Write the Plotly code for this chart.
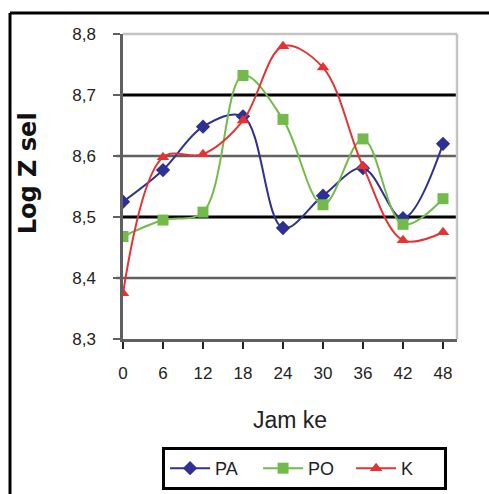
import plotly.graph_objects as go

hours = [0, 6, 12, 18, 24, 30, 36, 42, 48]
pa = [8.525, 8.577, 8.648, 8.665, 8.482, 8.535, 8.58, 8.498, 8.62]
po = [8.468, 8.495, 8.508, 8.732, 8.66, 8.52, 8.628, 8.488, 8.53]
k = [8.375, 8.598, 8.603, 8.658, 8.78, 8.745, 8.583, 8.462, 8.475]

series_names = ["PA", "PO", "K"]
y_ticks = [8.3, 8.4, 8.5, 8.6, 8.7, 8.8]
y_tick_text = ["8,3", "8,4", "8,5", "8,6", "8,7", "8,8"]
black_grid = [8.5, 8.7]
grey_grid = [8.4, 8.6]

FONT = "Arial"

fig = go.Figure()
styles = [
    dict(color="#2E3192", symbol="diamond", size=11),
    dict(color="#72BB4A", symbol="square", size=11),
    dict(color="#E53333", symbol="triangle-up", size=11),
]
for name, vals, st in zip(series_names, [pa, po, k], styles):
    fig.add_trace(go.Scatter(
        x=hours, y=vals, name=name, mode="lines+markers",
        line=dict(color=st["color"], width=2, shape="spline", smoothing=1.0),
        marker=dict(color=st["color"], symbol=st["symbol"], size=st["size"]),
    ))

shapes = []
for g in grey_grid:
    shapes.append(dict(type="line", xref="paper", yref="y", x0=-0.02, x1=1, y0=g, y1=g,
                       line=dict(color="#606060", width=2.5), layer="below"))
for g in black_grid:
    shapes.append(dict(type="line", xref="paper", yref="y", x0=0, x1=1, y0=g, y1=g,
                       line=dict(color="#000000", width=3), layer="below"))
shapes.append(dict(type="line", xref="paper", yref="paper", x0=0, x1=1, y0=1, y1=1,
                   line=dict(color="#C4C4C4", width=2.5), layer="below"))
shapes.append(dict(type="line", xref="paper", yref="paper", x0=1, x1=1, y0=0, y1=1,
                   line=dict(color="#C4C4C4", width=2.5), layer="below"))
shapes.append(dict(type="line", xref="paper", yref="paper", x0=-0.3383, x1=1.2, y0=1.0689, y1=1.0689,
                   line=dict(color="#000000", width=3)))
shapes.append(dict(type="line", xref="paper", yref="paper", x0=-0.3383, x1=-0.3383, y0=1.0689, y1=-0.6,
                   line=dict(color="#000000", width=3)))

fig.update_layout(
    width=489, height=494,
    margin=dict(l=123, r=32, t=34, b=155, autoexpand=False),
    paper_bgcolor="white", plot_bgcolor="white",
    font=dict(family=FONT, size=17, color="#222222"),
    showlegend=True,
    legend=dict(orientation="h", x=0.117, xanchor="left", y=-0.354, yanchor="top",
                bordercolor="#000000", borderwidth=3, bgcolor="white",
                font=dict(family=FONT, size=18, color="#222222"),
                itemwidth=40, entrywidth=38, entrywidthmode="pixels",
                tracegroupgap=0),
    shapes=shapes,
    xaxis=dict(range=[0, 50.1], tickvals=hours, ticktext=[str(h) for h in hours],
               showgrid=False, zeroline=False, showline=True, linecolor="#606060", linewidth=2.5,
               ticks="outside", ticklen=7, tickwidth=2, tickcolor="#202020",
               ticklabelstandoff=10, tickfont=dict(family=FONT, size=17)),
    yaxis=dict(range=[8.3, 8.8], tickvals=y_ticks, ticktext=y_tick_text,
               showgrid=False, zeroline=False, showline=True, linecolor="#606060", linewidth=2.5,
               ticks="outside", ticklen=7, tickwidth=2, tickcolor="#606060",
               ticklabelstandoff=14, tickfont=dict(family=FONT, size=17)),
    annotations=[
        dict(text="<b>Log Z sel</b>", xref="paper", yref="paper", x=-0.286, y=0.545,
             textangle=-90, showarrow=False,
             font=dict(family="DejaVu Sans", size=24, color="#111111"),
             xanchor="center", yanchor="middle"),
        dict(text="Jam ke", xref="paper", yref="paper", x=0.5, y=-0.266,
             showarrow=False, font=dict(family=FONT, size=23, color="#222222"),
             xanchor="center", yanchor="middle"),
    ],
)

fig.write_html("out.html")
